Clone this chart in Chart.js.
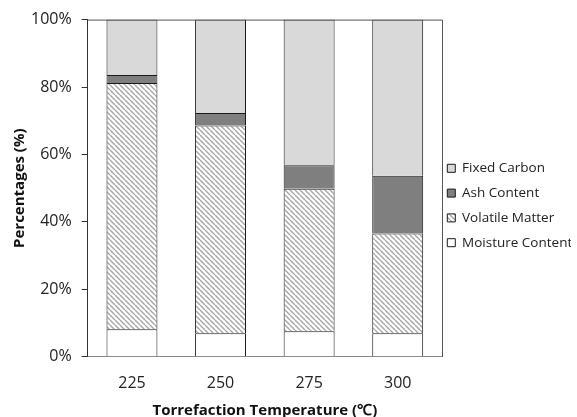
<!DOCTYPE html>
<html>
<head>
<meta charset="utf-8">
<script src="https://cdn.jsdelivr.net/npm/chart.js@4"></script>
<style>
    html, body { margin: 0; padding: 0; background: #fff; }
    #wrap { width: 577px; height: 417px; }
</style>
</head>
<body>
<div id="wrap"><canvas id="compChart" width="577" height="417"></canvas></div>
<script>
// Data (percent of sample)
const temperatures = ['225', '250', '275', '300'];
const moistureContent = [8.2, 7.0, 7.6, 7.0];
const volatileMatter = [73.0, 61.6, 42.2, 29.6];
const ashContent = [2.4, 3.7, 7.0, 17.1];
const fixedCarbon = [16.4, 27.7, 43.2, 46.3];
const yTicks = [0, 20, 40, 60, 80, 100];

const FONT = "'Open Sans', 'Liberation Sans', sans-serif";

// Diagonal hatch for the volatile matter bars
function makeHatch() {
    const s = 5;
    const c = document.createElement('canvas');
    c.width = s;
    c.height = s;
    const g = c.getContext('2d');
    g.fillStyle = '#ffffff';
    g.fillRect(0, 0, s, s);
    g.strokeStyle = '#a6a6a6';
    g.lineWidth = 1.4;
    for (let k = -s; k <= s; k += s) {
        g.beginPath();
        g.moveTo(k, 0);
        g.lineTo(k + s, s);
        g.stroke();
    }
    return g.createPattern(c, 'repeat');
}

// Box around the plot area (top and right sides)
const frame = {
    id: 'frame',
    afterDraw(chart) {
        const a = chart.chartArea;
        const ctx = chart.ctx;
        ctx.save();
        ctx.strokeStyle = '#555';
        ctx.lineWidth = 1;
        ctx.beginPath();
        ctx.moveTo(a.left, a.top + 0.5);
        ctx.lineTo(a.right + 0.5, a.top + 0.5);
        ctx.lineTo(a.right + 0.5, a.bottom);
        ctx.stroke();
        ctx.restore();
    }
};

// Nudge the legend block a little closer to the plot and upward
const legendNudge = {
    id: 'legendNudge',
    afterLayout(chart) {
        const lg = chart.legend;
        if (!lg) return;
        lg.left -= 6;
        lg.right -= 6;
        lg.top -= 11;
        lg.bottom -= 11;
    }
};

const hatch = makeHatch();

const common = { borderColor: '#1a1a1a', borderWidth: 1, barPercentage: 0.575, categoryPercentage: 1 };

const ctx = document.getElementById('compChart').getContext('2d');

const config = {
    type: 'bar',
    data: {
        labels: temperatures,
        datasets: [
            { label: 'Moisture Content', data: moistureContent, backgroundColor: '#ffffff', ...common },
            { label: 'Volatile Matter', data: volatileMatter, backgroundColor: hatch, ...common },
            { label: 'Ash Content', data: ashContent, backgroundColor: '#7f7f7f', ...common },
            { label: 'Fixed Carbon', data: fixedCarbon, backgroundColor: '#d9d9d9', ...common }
        ]
    },
    options: {
        responsive: false,
        animation: false,
        layout: { padding: { top: 16, right: 0, bottom: 0, left: 6 } },
        plugins: {
            tooltip: { enabled: false },
            legend: {
                position: 'right',
                reverse: true,
                maxWidth: 135,
                labels: {
                    boxWidth: 8,
                    boxHeight: 8,
                    padding: 11.3,
                    color: '#222',
                    font: { family: FONT, size: 13.5 }
                }
            }
        },
        scales: {
            x: {
                stacked: true,
                grid: { display: false },
                border: { display: true, color: '#888' },
                ticks: { color: '#222', font: { family: FONT, size: 16 }, padding: 9 },
                title: {
                    display: true,
                    text: 'Torrefaction Temperature (℃)',
                    color: '#111',
                    font: { family: FONT, size: 15, weight: 'bold' },
                    padding: { top: 0, bottom: -3 }
                }
            },
            y: {
                stacked: true,
                min: 0,
                max: 100,
                afterBuildTicks: axis => { axis.ticks = yTicks.map(v => ({ value: v })); },
                grid: { drawOnChartArea: false, tickLength: 6, color: '#333' },
                border: { display: true, color: '#333' },
                ticks: {
                    color: '#222',
                    font: { family: FONT, size: 16 },
                    padding: 10,
                    callback: v => v + '%'
                },
                title: {
                    display: true,
                    text: 'Percentages (%)',
                    color: '#111',
                    font: { family: FONT, size: 15, weight: 'bold' },
                    padding: { top: 5, bottom: -8 }
                }
            }
        }
    },
    plugins: [frame, legendNudge]
};

const compChart = new Chart(ctx, config);
</script>
</body>
</html>
